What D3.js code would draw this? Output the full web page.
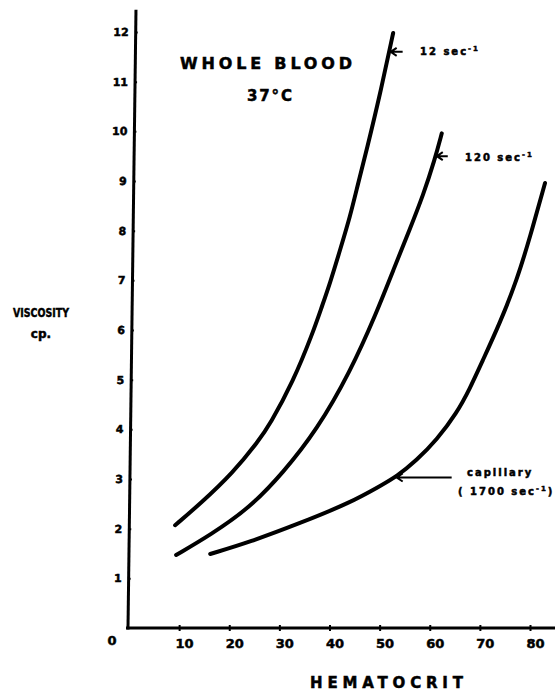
<!DOCTYPE html>
<html>
<head>
<meta charset="utf-8">
<script src="https://cdn.jsdelivr.net/npm/d3@7"></script>
<style>
  body { margin: 0; background: #fff; }
  svg text { font-family: "DejaVu Sans", sans-serif; font-weight: bold; fill: #000; stroke: #000; stroke-width: 0.5px; }
</style>
</head>
<body>
<div id="container"></div>
<script>
/* CONSTANTS AND GLOBALS */
const width = 555,
  height = 691,
  margin = {top: 32, bottom: 63, left: 129, right: 25};

/* DATA */
const xTicks = [10, 20, 30, 40, 50, 60, 70, 80];
const yTicks = [1, 2, 3, 4, 5, 6, 7, 8, 9, 10, 11, 12];

// 12 sec-1
const hct12 = [9.2, 14.2, 20.7, 25.8, 28.1, 32.7, 36.7, 38.4, 40.1, 42.1, 44.1, 45.7, 47.4, 50.1, 52.7];
const visc12 = [2.07, 2.50, 3.12, 3.76, 4.10, 4.95, 5.95, 6.45, 6.94, 7.61, 8.28, 8.95, 9.62, 10.75, 11.98];

// 120 sec-1
const hct120 = [9.4, 16.2, 24.1, 30.7, 37.5, 44.1, 49.4, 52.7, 56.1, 58.7, 61.0, 62.4];
const visc120 = [1.47, 1.87, 2.42, 3.12, 3.99, 5.15, 6.35, 7.2, 8.05, 8.72, 9.43, 9.96];

// capillary (1700 sec-1)
const hctCap = [16.2, 24.1, 34.1, 44.1, 50.1, 53.4, 57.4, 61.4, 65.4, 68.0, 70.4, 74.0, 77.4, 80.0, 83.0];
const viscCap = [1.49, 1.73, 2.11, 2.52, 2.86, 3.05, 3.38, 3.79, 4.33, 4.82, 5.35, 6.14, 7.01, 7.87, 8.96];

// where each label arrow touches its curve
const arrowHct = [52.2, 61.4, 53.4];
const arrowVisc = [11.6, 9.5, 3.03];

const series = [
  {x: hct12, y: visc12},
  {x: hct120, y: visc120},
  {x: hctCap, y: viscCap}
];

// SCALES
const xScale = d3.scaleLinear()
  .domain([0, 80])
  .range([margin.left, width - margin.right])

const yScale = d3.scaleLinear()
  .domain([0, 12])
  .range([height - margin.bottom, margin.top])

// CREATE SVG ELEMENT
const svg = d3.select("#container")
  .append("svg")
  .attr("width", width)
  .attr("height", height)

// Y AXIS (the drawn axis leans a little to the right)
const y0 = yScale(0);
const yAxisG = svg.append("g")
  .attr("transform", `translate(${margin.left - 1},${y0}) skewX(-0.74) translate(0,${-y0})`)
  .call(d3.axisLeft(yScale).tickValues(yTicks).tickSize(5).tickPadding(2))
  .style("font", "bold 11px 'DejaVu Sans'")

yAxisG.select(".domain").remove();
yAxisG.selectAll(".tick line").attr("x2", 2).attr("stroke-width", 2);
yAxisG.append("line")
  .attr("y1", y0 + 1.5)
  .attr("y2", yScale(12.45))
  .attr("stroke", "#000")
  .attr("stroke-width", 3)

// X AXIS
const xAxisG = svg.append("g")
  .attr("transform", `translate(0,${y0})`)
  .call(d3.axisBottom(xScale).tickValues(xTicks).tickSize(3).tickPadding(8))
  .style("font", "bold 13px 'DejaVu Sans'")

xAxisG.select(".domain").remove();
xAxisG.selectAll(".tick line").attr("y1", -3).attr("stroke-width", 2);
xAxisG.selectAll(".tick text").attr("dx", 5);
xAxisG.append("line")
  .attr("x1", margin.left - 3)
  .attr("x2", width)
  .attr("stroke", "#000")
  .attr("stroke-width", 3)

svg.append("text")
  .attr("x", margin.left - 17)
  .attr("y", y0 + 17)
  .attr("text-anchor", "middle")
  .style("font-size", "13px")
  .text("0")

// LINE GENERATOR FUNCTION
const lineGen = d3.line()
  .x(d => xScale(d[0]))
  .y(d => yScale(d[1]))
  .curve(d3.curveBasis)

// DRAW LINES
svg.selectAll("path.line")
  .data(series)
  .join("path")
  .attr("class", "line")
  .attr("fill", "none")
  .attr("stroke", "#000")
  .attr("stroke-width", 4)
  .attr("stroke-linecap", "round")
  .attr("d", s => lineGen(s.x.map((v, i) => [v, s.y[i]])))

// ARROWS TO THE CURVES
const shaft = [12, 11, 55];
arrowHct.forEach((h, i) => {
  const tx = xScale(h), ty = yScale(arrowVisc[i]);
  svg.append("path")
    .attr("d", `M${tx + 6},${ty - 4}L${tx},${ty}L${tx + 6},${ty + 4}M${tx},${ty}H${tx + shaft[i]}`)
    .attr("fill", "none")
    .attr("stroke", "#000")
    .attr("stroke-width", 2)
});

// ANNOTATION TEXT
function secLabel(x, y, pre, post) {
  const t = svg.append("text")
    .attr("x", x)
    .attr("y", y)
    .style("font-size", "10px")
    .style("letter-spacing", "2px")
  t.append("tspan").text(pre);
  t.append("tspan").attr("dy", -4).style("font-size", "7px").text("-1");
  if (post) t.append("tspan").attr("dy", 4).text(post);
  return t;
}
secLabel(420, 55, "12 sec");
secLabel(465, 161, "120 sec");
svg.append("text")
  .attr("x", 467)
  .attr("y", 476)
  .style("font-size", "10px")
  .style("letter-spacing", "2px")
  .text("capillary")
secLabel(458, 495, "( 1700 sec", ")");

// TITLES
svg.append("text")
  .attr("x", 180)
  .attr("y", 69)
  .attr("textLength", 172)
  .attr("lengthAdjust", "spacing")
  .style("font-size", "16px")
  .text("WHOLE BLOOD")

svg.append("text")
  .attr("x", 247)
  .attr("y", 101)
  .attr("textLength", 45)
  .attr("lengthAdjust", "spacing")
  .style("font-size", "15px")
  .text("37°C")

svg.append("text")
  .attr("x", 13)
  .attr("y", 317)
  .attr("textLength", 56)
  .attr("lengthAdjust", "spacingAndGlyphs")
  .style("font-size", "13px")
  .text("VISCOSITY")

svg.append("text")
  .attr("x", 41)
  .attr("y", 338)
  .attr("text-anchor", "middle")
  .style("font-size", "12px")
  .text("cp.")

svg.append("text")
  .attr("x", 310)
  .attr("y", 688)
  .attr("textLength", 153)
  .attr("lengthAdjust", "spacing")
  .style("font-size", "15px")
  .text("HEMATOCRIT")
</script>
</body>
</html>
